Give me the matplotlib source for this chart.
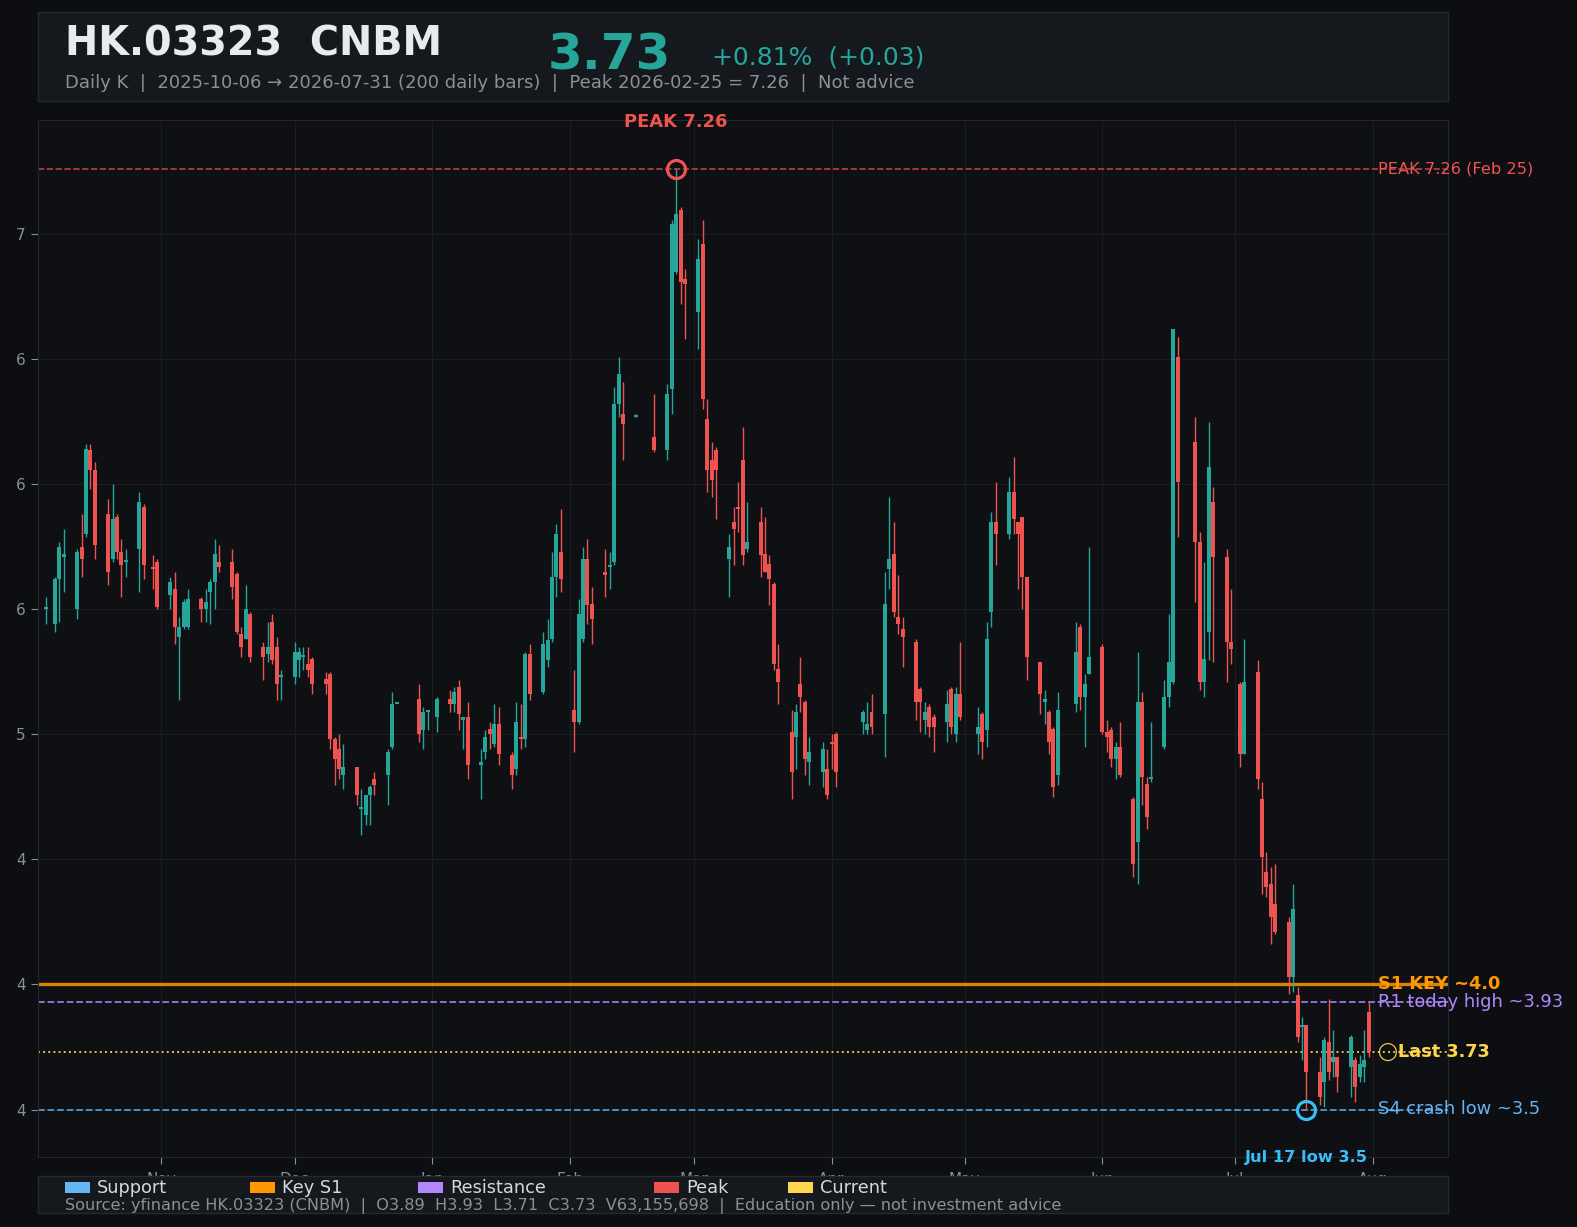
import numpy as np
import pandas as pd
import matplotlib
matplotlib.use("Agg")
import matplotlib.pyplot as plt
import matplotlib.dates as mdates
from matplotlib.patches import Rectangle
from matplotlib.ticker import MultipleLocator, StrMethodFormatter

W, H = 1577, 1227

# HK exchange holidays inside the window (200 bars left)
holidays = ["2025-10-07", "2025-10-29", "2025-12-25", "2025-12-26", "2026-01-01",
            "2026-02-17", "2026-02-18", "2026-02-19", "2026-04-03", "2026-04-06",
            "2026-04-07", "2026-05-01", "2026-05-25", "2026-06-19", "2026-07-01"]

opens = [
    # Oct
    5.50, 5.44, 5.62, 5.71, 5.50, 5.75, 5.80, 6.14, 6.06, 5.88, 5.70, 5.87, 5.73, 5.69, 5.74, 5.91, 5.67, 5.69,
    # Nov
    5.56, 5.58, 5.39, 5.43, 5.43, 5.54, 5.50, 5.57, 5.61, 5.69, 5.69, 5.64, 5.40, 5.38, 5.48, 5.35, 5.32, 5.45, 5.35, 5.23,
    # Dec
    5.23, 5.30, 5.31, 5.28, 5.30, 5.22, 5.24, 4.98, 4.94, 4.84, 4.87, 4.70, 4.68, 4.76, 4.82, 4.84, 4.95, 5.12, 5.14, 5.02, 5.09,
    # Jan
    5.07, 5.14, 5.12, 5.19, 5.06, 5.07, 4.88, 4.93, 5.02, 4.96, 5.04, 4.92, 4.86, 4.99, 4.98, 5.32, 5.17, 5.30, 5.38, 5.63, 5.73,
    # Feb
    5.10, 5.05, 5.38, 5.70, 5.52, 5.65, 5.67, 5.69, 6.32, 6.28, 6.27, 6.19, 6.14, 6.38, 6.85, 7.10, 6.82,
    # Mar
    6.69, 6.96, 6.26, 6.10, 6.14, 5.70, 5.85, 5.91, 6.10, 5.74, 5.85, 5.72, 5.68, 5.60, 5.26, 5.01, 4.99, 5.20, 5.13, 4.89, 4.85, 4.86,
    # Apr
    4.97, 5.00, 5.05, 5.02, 5.09, 5.08, 5.66, 5.72, 5.47, 5.42, 5.37, 5.18, 5.06, 5.11, 5.07, 5.05, 5.18, 5.00, 5.16,
    # May
    5.00, 5.08, 5.02, 5.49, 5.85, 5.80, 5.97, 5.85, 5.87, 5.63, 5.29, 5.13, 5.09, 5.02, 4.84, 5.12, 5.43, 5.15, 5.24,
    # Jun
    5.35, 5.01, 5.02, 4.90, 4.95, 4.74, 4.57, 5.13, 4.80, 4.82, 4.95, 5.15, 5.21, 6.51, 6.17, 5.77, 5.21, 5.41, 5.93, 5.71, 5.37,
    # Jul
    5.20, 4.92, 5.25, 4.74, 4.45, 4.40, 4.32, 4.25, 4.03, 3.96, 3.83, 3.84, 3.65, 3.61, 3.77, 3.69, 3.71, 3.67, 3.70, 3.63, 3.67, 3.89,
]
highs = [
    5.55, 5.63, 5.77, 5.82, 5.74, 5.88, 6.16, 6.16, 6.09, 5.94, 6.00, 5.88, 5.78, 5.74, 5.97, 5.92, 5.72, 5.70,
    5.63, 5.65, 5.47, 5.54, 5.58, 5.55, 5.58, 5.62, 5.78, 5.76, 5.74, 5.65, 5.43, 5.60, 5.49, 5.37, 5.45, 5.48, 5.39, 5.26,
    5.37, 5.35, 5.35, 5.35, 5.31, 5.25, 5.25, 4.99, 5.00, 4.96, 4.87, 4.78, 4.76, 4.80, 4.85, 4.94, 5.17, 5.12, 5.20, 5.11, 5.10,
    5.15, 5.18, 5.19, 5.22, 5.07, 5.13, 4.94, 5.02, 5.05, 5.12, 5.11, 4.93, 5.13, 5.12, 5.33, 5.36, 5.41, 5.46, 5.73, 5.84, 5.90,
    5.26, 5.54, 5.75, 5.78, 5.59, 5.74, 5.73, 6.39, 6.51, 6.41, 6.28, 6.36, 6.40, 7.06, 7.26, 7.11, 6.86,
    6.98, 7.06, 6.34, 6.17, 6.15, 5.80, 5.91, 6.01, 6.23, 5.93, 5.91, 5.87, 5.72, 5.61, 5.36, 5.10, 5.12, 5.31, 5.14, 4.99, 4.97, 4.94,
    5.00, 5.01, 5.10, 5.13, 5.16, 5.65, 5.95, 5.85, 5.64, 5.47, 5.38, 5.19, 5.13, 5.12, 5.08, 5.18, 5.19, 5.19, 5.37,
    5.11, 5.09, 5.45, 5.89, 6.01, 6.03, 6.11, 5.85, 5.87, 5.63, 5.29, 5.18, 5.10, 5.03, 5.17, 5.45, 5.44, 5.24, 5.75,
    5.36, 5.06, 5.03, 4.97, 5.05, 4.75, 5.33, 5.17, 4.83, 5.05, 5.22, 5.48, 6.62, 6.59, 6.27, 5.81, 5.69, 6.25, 5.99, 5.74, 5.58,
    5.21, 5.38, 5.30, 4.81, 4.53, 4.47, 4.48, 4.27, 4.40, 3.99, 3.87, 3.84, 3.71, 3.79, 3.94, 3.82, 3.71, 3.80, 3.71, 3.72, 3.82, 3.93,
]
lows = [
    5.44, 5.41, 5.45, 5.57, 5.46, 5.63, 5.79, 5.98, 5.70, 5.60, 5.69, 5.70, 5.55, 5.63, 5.57, 5.62, 5.58, 5.50,
    5.50, 5.36, 5.14, 5.42, 5.42, 5.45, 5.45, 5.44, 5.50, 5.65, 5.54, 5.40, 5.31, 5.38, 5.29, 5.22, 5.29, 5.28, 5.14, 5.14,
    5.20, 5.23, 5.26, 5.23, 5.16, 5.16, 4.94, 4.80, 4.82, 4.78, 4.72, 4.60, 4.64, 4.64, 4.76, 4.72, 4.94, 5.12, 4.97, 4.94, 5.02,
    5.01, 5.09, 5.09, 5.02, 4.94, 4.82, 4.74, 4.90, 4.94, 4.95, 4.88, 4.78, 4.84, 4.94, 4.95, 5.14, 5.16, 5.27, 5.37, 5.55, 5.57,
    4.93, 5.04, 5.37, 5.44, 5.36, 5.55, 5.58, 5.68, 6.27, 6.10, 6.27, 6.13, 6.10, 6.28, 6.84, 6.72, 6.58,
    6.54, 6.30, 5.97, 5.95, 5.86, 5.55, 5.68, 5.81, 5.68, 5.73, 5.63, 5.65, 5.52, 5.26, 5.12, 4.74, 4.86, 5.09, 4.84, 4.80, 4.79, 4.74,
    4.86, 4.79, 5.00, 5.00, 5.00, 4.91, 5.58, 5.47, 5.40, 5.27, 5.06, 5.01, 5.00, 4.99, 4.93, 4.97, 5.00, 4.97, 5.06,
    4.92, 4.90, 4.95, 5.43, 5.68, 5.78, 5.80, 5.58, 5.50, 5.22, 5.08, 5.04, 4.92, 4.75, 4.80, 5.09, 5.10, 4.95, 5.24,
    5.00, 4.93, 4.87, 4.82, 4.83, 4.43, 4.40, 4.72, 4.62, 4.81, 4.94, 5.11, 5.20, 5.79, 5.53, 5.18, 5.15, 5.30, 5.29, 5.21, 5.28,
    4.87, 4.92, 4.78, 4.36, 4.35, 4.16, 4.20, 3.96, 3.97, 3.77, 3.70, 3.50, 3.52, 3.51, 3.62, 3.63, 3.57, 3.55, 3.53, 3.61, 3.61, 3.71,
]
closes = [
    5.51, 5.62, 5.75, 5.72, 5.73, 5.70, 6.14, 6.06, 5.76, 5.65, 5.86, 5.73, 5.68, 5.69, 5.93, 5.68, 5.66, 5.51,
    5.61, 5.43, 5.43, 5.53, 5.54, 5.50, 5.53, 5.61, 5.72, 5.67, 5.59, 5.41, 5.35, 5.50, 5.31, 5.31, 5.35, 5.30, 5.20, 5.23,
    5.33, 5.33, 5.31, 5.26, 5.20, 5.20, 4.98, 4.90, 4.86, 4.87, 4.76, 4.71, 4.76, 4.79, 4.80, 4.93, 5.12, 5.12, 5.00, 5.09, 5.10,
    5.14, 5.12, 5.17, 5.08, 5.07, 4.88, 4.89, 4.99, 5.00, 5.04, 4.92, 4.84, 5.05, 4.98, 5.32, 5.16, 5.36, 5.38, 5.63, 5.80, 5.62,
    5.05, 5.48, 5.70, 5.52, 5.46, 5.64, 5.67, 6.32, 6.44, 6.24, 6.27, 6.14, 6.36, 7.04, 7.08, 6.81, 6.80,
    6.90, 6.34, 6.06, 6.02, 6.06, 5.75, 5.82, 5.90, 5.72, 5.77, 5.72, 5.65, 5.62, 5.28, 5.21, 4.85, 5.09, 5.15, 4.90, 4.93, 4.94, 4.76,
    4.96, 4.85, 5.09, 5.04, 5.03, 5.52, 5.70, 5.49, 5.44, 5.39, 5.13, 5.13, 5.09, 5.03, 5.03, 5.12, 5.03, 5.16, 5.07,
    5.03, 4.97, 5.38, 5.85, 5.80, 5.97, 5.86, 5.80, 5.63, 5.31, 5.16, 5.14, 4.97, 4.79, 5.10, 5.33, 5.15, 5.20, 5.31,
    5.01, 4.99, 4.90, 4.95, 4.84, 4.48, 5.13, 4.83, 4.67, 4.83, 5.15, 5.29, 6.62, 6.01, 5.77, 5.21, 5.30, 6.07, 5.71, 5.37, 5.34,
    4.92, 5.21, 4.82, 4.51, 4.39, 4.27, 4.21, 4.03, 4.30, 3.79, 3.84, 3.65, 3.55, 3.78, 3.65, 3.71, 3.63, 3.79, 3.59, 3.68, 3.70, 3.73,
]

peak_date, peak_price = "2026-02-25", 7.26
low_date, low_price = "2026-07-17", 3.50
s1_key = 4.0
r1_high = 3.93
last_price = 3.73
s4_low = 3.5

UP = "#26a69a"
DOWN = "#ef5350"
BG = "#0c0e11"
PANEL = "#15181c"
EDGE = "#262a30"
GRID = "#1a1d22"
MUTED = "#8b9096"
C_SUPPORT = "#64b5f6"
C_KEY = "#ff9800"
C_RES = "#b388ff"
C_PEAK = "#ef5350"
C_CUR = "#ffd54f"
C_LOW = "#38bdf8"


def fx(px):
    return px / W


def fy(py):
    return 1 - py / H


dates = pd.bdate_range("2025-10-06", "2026-07-31").drop(pd.to_datetime(holidays))
d = mdates.date2num(dates)
o = np.array(opens)
hi = np.array(highs)
lo = np.array(lows)
c = np.array(closes)

fig = plt.figure(figsize=(W / 100, H / 100), dpi=100, facecolor=BG)
ax = fig.add_axes([fx(37.6), fy(1157), fx(1448 - 37.6), (1157 - 120) / H])
ax.set_facecolor("#0e1014")

col = np.where(c >= o, UP, DOWN)
ax.vlines(d, lo, hi, colors=col, lw=1.0, zorder=3)
ax.bar(d, np.maximum(np.abs(c - o), 0.008), bottom=np.minimum(o, c), width=0.9,
       color=col, linewidth=0, zorder=4)

# levels
ax.axhline(peak_price, color=C_PEAK, ls="--", lw=1.2, alpha=0.75, zorder=2)
ax.axhline(s1_key, color=C_KEY, ls="-", lw=2.4, alpha=0.85, zorder=2)
ax.axhline(r1_high, color=C_RES, ls="--", lw=1.3, alpha=0.85, zorder=2)
ax.axhline(last_price, color=C_CUR, ls=":", lw=1.4, alpha=0.9, zorder=2)
ax.axhline(s4_low, color=C_SUPPORT, ls="--", lw=1.3, alpha=0.8, zorder=2)

xl = d[-1] + 2.2
ax.text(xl, peak_price, "PEAK 7.26 (Feb 25)", color=C_PEAK, fontsize=11.7, va="center", clip_on=False, zorder=6)
ax.text(xl, s1_key, "S1 KEY ~4.0", color=C_KEY, fontsize=12.8, fontweight="bold", va="center", clip_on=False, zorder=6)
ax.text(xl, r1_high, "R1 today high ~3.93", color=C_RES, fontsize=12.9, va="center", clip_on=False, zorder=6)
ax.text(xl, last_price, "◯Last 3.73", color=C_CUR, fontsize=12.8, fontweight="bold", va="center", clip_on=False, zorder=6)
ax.text(xl, s4_low, "S4 crash low ~3.5", color=C_SUPPORT, fontsize=12.9, va="center", clip_on=False, zorder=6)

pk = mdates.date2num(pd.Timestamp(peak_date))
ax.plot(pk, peak_price, "o", ms=13, mfc="none", mec=C_PEAK, mew=2.3, zorder=6)
ax.text(pk, 7.45, "PEAK 7.26", color=C_PEAK, fontsize=12.9, fontweight="bold",
        ha="center", va="center", clip_on=False, zorder=6)

lw_ = mdates.date2num(pd.Timestamp(low_date))
ax.plot(lw_, low_price, "o", ms=13, mfc="none", mec=C_LOW, mew=2.3, zorder=6)
ax.text(lw_, 3.309, "Jul 17 low 3.5", color=C_LOW, fontsize=11.7, fontweight="bold",
        ha="center", va="center", clip_on=False, zorder=6)

ax.set_xlim(d[0] - 1.9, d[0] + 315.9)
ax.set_ylim(3.31, 7.458)
ax.yaxis.set_major_locator(MultipleLocator(0.5))
ax.yaxis.set_major_formatter(StrMethodFormatter("{x:.0f}"))
ax.xaxis.set_major_locator(mdates.MonthLocator())
ax.xaxis.set_major_formatter(mdates.DateFormatter("%b"))
ax.tick_params(colors=MUTED, labelsize=11, length=5, width=0.8)
ax.tick_params(axis="x", pad=6)
ax.grid(True, color=GRID, lw=0.8)
ax.set_axisbelow(True)
for sp in ax.spines.values():
    sp.set_color("#23272c")

# header panel
fig.add_artist(Rectangle((fx(37.6), fy(101)), fx(1448 - 37.6), (101 - 12.3) / H,
                         transform=fig.transFigure, facecolor=PANEL, edgecolor=EDGE, lw=1, zorder=5))
fig.text(fx(65), fy(55), "HK.03323  CNBM", color="#e8eaed", fontsize=28.6, fontweight="bold", va="baseline", zorder=6)
fig.text(fx(548), fy(69), "3.73", color=UP, fontsize=36, fontweight="bold", va="baseline", zorder=6)
fig.text(fx(712), fy(65), "+0.81%  (+0.03)", color=UP, fontsize=18, va="baseline", zorder=6)
fig.text(fx(65), fy(88.3),
         "Daily K  |  2025-10-06 → 2026-07-31 (200 daily bars)  |  Peak 2026-02-25 = 7.26  |  Not advice",
         color=MUTED, fontsize=13, va="baseline", zorder=6)

# footer panel with legend
fig.add_artist(Rectangle((fx(37.6), fy(1213)), fx(1448 - 37.6), (1213 - 1176) / H,
                         transform=fig.transFigure, facecolor=PANEL, edgecolor=EDGE, lw=1, zorder=5))
legend_items = [("Support", C_SUPPORT, 65), ("Key S1", C_KEY, 250), ("Resistance", C_RES, 418),
                ("Peak", C_PEAK, 654), ("Current", C_CUR, 788)]
for name, color, x0 in legend_items:
    fig.add_artist(Rectangle((fx(x0), fy(1193)), fx(25), 11 / H, transform=fig.transFigure,
                             facecolor=color, edgecolor="none", zorder=6))
    fig.text(fx(x0 + 32), fy(1188), name, color="#d5d8dc", fontsize=12.8, va="center", zorder=6)
fig.text(fx(65), fy(1206),
         "Source: yfinance HK.03323 (CNBM)  |  O3.89  H3.93  L3.71  C3.73  V63,155,698  |  Education only — not investment advice",
         color=MUTED, fontsize=11.6, va="center", zorder=6)

fig.savefig("out.png", dpi=100, facecolor=BG)
